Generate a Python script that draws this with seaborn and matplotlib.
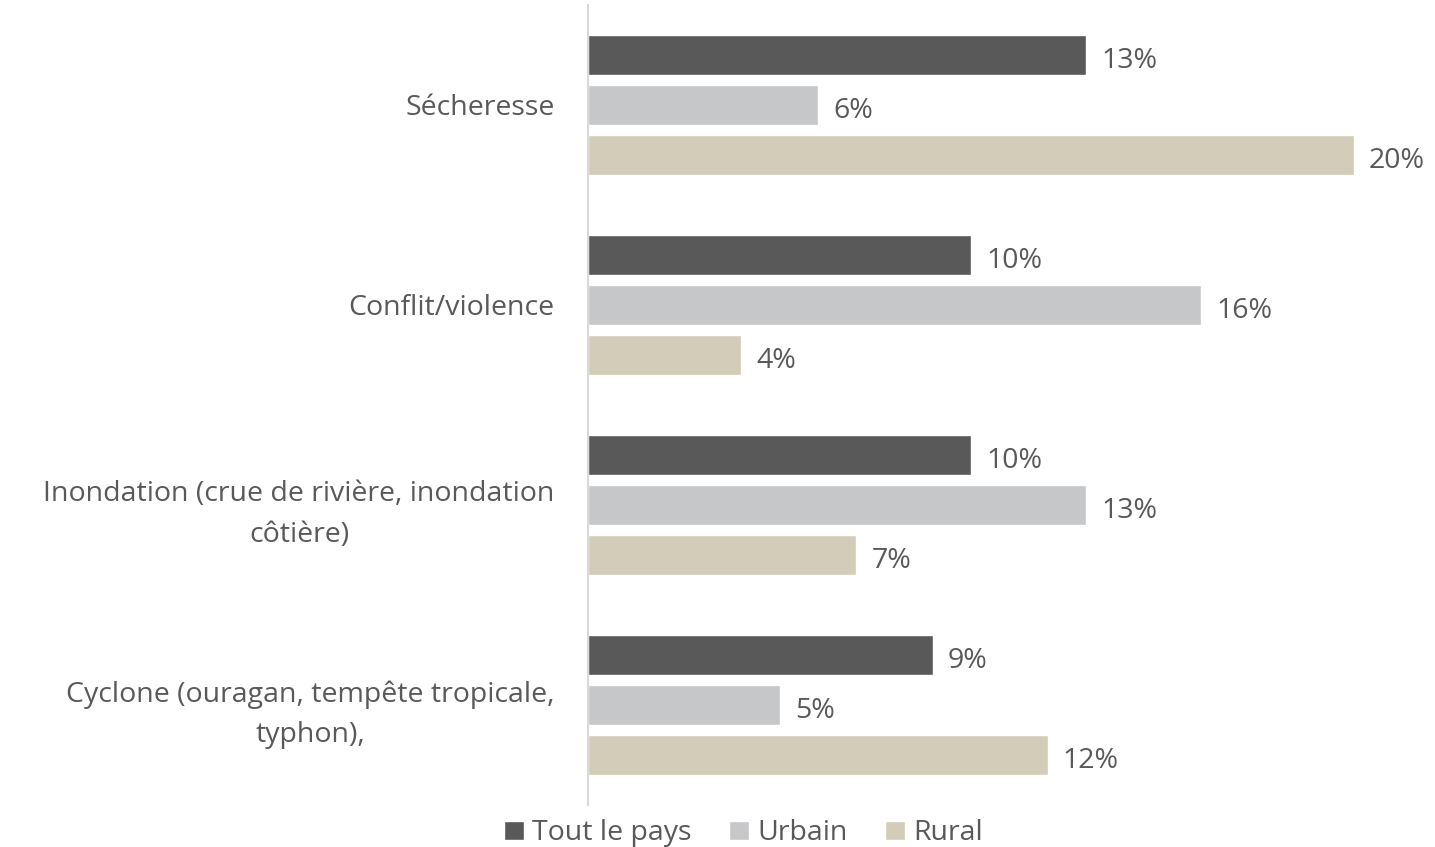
import matplotlib
matplotlib.use('Agg')
import matplotlib.pyplot as plt
import seaborn as sns
import pandas as pd

categories = ['Sécheresse', 'Conflit/violence',
              'Inondation (crue de rivière, inondation\ncôtière)',
              'Cyclone (ouragan, tempête tropicale,\ntyphon),']
series = ['Tout le pays', 'Urbain', 'Rural']
tout_le_pays = [13, 10, 10, 9]
urbain = [6, 16, 13, 5]
rural = [20, 4, 7, 12]
colors = ['#595959', '#C6C7C9', '#D3CCB8']
text_color = '#595959'

rows = []
for i, cat in enumerate(categories):
    for name, vals in zip(series, [tout_le_pays, urbain, rural]):
        rows.append({'Catégorie': cat, 'Série': name, 'Valeur': vals[i]})
df = pd.DataFrame(rows)

sns.set_style('white')
plt.rcParams['font.family'] = ['Open Sans', 'DejaVu Sans']
fs = 20.5

fig = plt.figure(figsize=(14.35, 8.47), dpi=100)
ax = fig.add_axes([0.4098, 0.0496, 0.587, 0.9445])

sns.barplot(data=df, x='Valeur', y='Catégorie', hue='Série', order=categories,
            hue_order=series, palette=colors, orient='h', width=0.75, gap=0.2,
            saturation=1, ax=ax)

for cont in ax.containers:
    anns = ax.bar_label(cont, labels=[f'{int(v)}%' for v in cont.datavalues],
                        padding=11, fontsize=fs, color=text_color)
    for a in anns:
        a.xyann = (11, -4)

ax.set_xlim(0, 22)
ax.set_ylim(3.5, -0.5)
ax.set_xlabel('')
ax.set_ylabel('')
ax.set_xticks([])
ax.tick_params(axis='y', length=0, pad=24, labelsize=fs, labelcolor=text_color)
for lab in ax.get_yticklabels():
    lab.set_horizontalalignment('right')
    lab.set_multialignment('center')
    lab.set_linespacing(1.6)
for s in ['top', 'right', 'bottom']:
    ax.spines[s].set_visible(False)
ax.spines['left'].set_color('#D9D9D9')
ax.spines['left'].set_linewidth(1.5)

handles, labels = ax.get_legend_handles_labels()
ax.get_legend().remove()
fig.legend(handles, labels, loc='center', bbox_to_anchor=(0.518, 0.016), ncol=3,
           frameon=False, fontsize=fs, labelcolor=text_color, handlelength=0.7,
           handleheight=0.7, handletextpad=0.3, columnspacing=1.3,
           borderpad=0, borderaxespad=0)

fig.savefig('out.png', dpi=100)
